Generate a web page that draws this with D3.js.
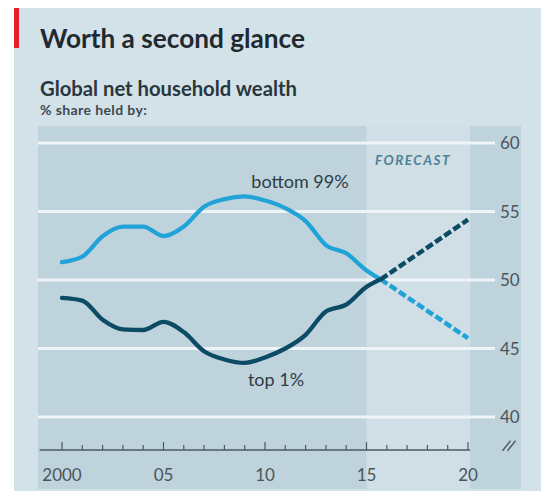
<!DOCTYPE html>
<html lang="en">
<head>
    <meta charset="UTF-8">
    <title>Worth a second glance</title>
    <style>
        body{ margin:0; background:#fff; }
        svg{ display:block; }
    </style>
</head>
<body>
    <script src="https://cdn.jsdelivr.net/npm/d3@7"></script>
    <script>
        // data
        const years = [2000,2001,2002,2003,2004,2005,2006,2007,2008,2009,2010,2011,2012,2013,2014,2015,2015.7]
        const bottom99 = [51.3,51.7,53.2,53.9,53.9,53.2,53.9,55.35,55.9,56.1,55.8,55.25,54.3,52.55,51.95,50.7,50.05]
        const top1 = [48.7,48.5,47.1,46.4,46.35,46.95,46.2,44.8,44.2,43.95,44.35,45.0,46.0,47.7,48.2,49.5,50.05]

        const forecastYears = [2015.7,2020]
        const bottom99Forecast = [50.05,45.75]
        const top1Forecast = [50.05,54.4]
        const forecastStart = 2015

        const yTicks = [40,45,50,55,60]
        const xMajor = [2000,2005,2010,2015,2020]
        const xMinor = d3.range(2000,2021)

        const W = 541, H = 491
        const font = "Lato, 'Open Sans', sans-serif"

        const svg = d3.select("body")
            .append("svg")
            .attr("width",W)
            .attr("height",H)

        // background
        svg.append("rect").attr("x",14).attr("y",8).attr("width",W-14).attr("height",H-8).attr("fill","#d3e1e8")
        svg.append("rect").attr("x",14).attr("y",8).attr("width",5).attr("height",40).attr("fill","#e3202a")

        // scales
        const x = d3.scaleLinear().domain([2000,2020]).range([62,468])
        const y = d3.scaleLinear().domain([40,60]).range([417,143])

        // panel + forecast zone
        svg.append("rect").attr("x",38).attr("y",126).attr("width",521-38).attr("height",489-126).attr("fill","#bfd3dd")
        svg.append("rect")
            .attr("x",x(forecastStart)).attr("y",126)
            .attr("width",x(2020.1)-x(forecastStart)).attr("height",489-126)
            .attr("fill","#d0dfe6")

        // titles, fitted to width
        function fit(t, w){
            let s = +t.attr("font-size")
            const len = t.node().getComputedTextLength()
            t.attr("font-size", s*w/len)
        }
        const title = svg.append("text").attr("x",40).attr("y",48)
            .attr("font-family",font).attr("font-weight","bold")
            .attr("font-size",24).attr("fill","#1e2a30").text("Worth a second glance")
        fit(title,265)
        const sub = svg.append("text").attr("x",40).attr("y",96)
            .attr("font-family",font).attr("font-weight","bold")
            .attr("font-size",17).attr("fill","#28363d").text("Global net household wealth")
        fit(sub,257)
        svg.append("text").attr("x",40).attr("y",115)
            .attr("font-family",font).attr("font-weight","bold")
            .attr("font-size",14).attr("letter-spacing",0.4).attr("fill","#3d4a50").text("% share held by:")

        // gridlines
        svg.append("g").selectAll("line")
            .data(yTicks)
            .join("line")
                .attr("x1",38).attr("x2",495)
                .attr("y1",d => y(d)).attr("y2",d => y(d))
                .attr("stroke","#eef4f7").attr("stroke-width",3)

        // y labels on the right
        svg.append("g").selectAll("text")
            .data(yTicks)
            .join("text")
                .attr("x",500).attr("y",d => y(d)).attr("dy","0.36em")
                .attr("font-family",font)
                .attr("font-size",17).attr("fill","#4a555a")
                .text(d => d)

        // axis break mark
        const brk = svg.append("g").attr("transform",`translate(${509},${y(37.9)})`)
        brk.selectAll("line").data([-2.5,2.5]).join("line")
            .attr("x1",d => d-4).attr("y1",5).attr("x2",d => d+4).attr("y2",-5)
            .attr("stroke","#4a555a").attr("stroke-width",1.3)

        // x axis
        const axisY = 450
        svg.append("line")
            .attr("x1",x(1998.9)).attr("x2",x(2020.1))
            .attr("y1",axisY).attr("y2",axisY)
            .attr("stroke","#4e5a60").attr("stroke-width",1.3)
        svg.append("g").selectAll("line")
            .data(xMinor)
            .join("line")
                .attr("x1",d => x(d)).attr("x2",d => x(d))
                .attr("y1",axisY).attr("y2",d => axisY - (d%5===0 ? 8 : 5))
                .attr("stroke","#4e5a60").attr("stroke-width",1.2)
        svg.append("g").selectAll("text")
            .data(xMajor)
            .join("text")
                .attr("x",d => x(d)).attr("y",481)
                .attr("text-anchor","middle")
                .attr("font-family",font)
                .attr("font-size",17).attr("fill","#4a555a")
                .text(d => d===2000 ? "2000" : String(d%100).padStart(2,"0"))

        // FORECAST label
        svg.append("text").attr("x",375).attr("y",165)
            .attr("font-family",font).attr("font-style","italic").attr("font-weight","bold")
            .attr("font-size",13.5).attr("letter-spacing",1.5).attr("fill","#4f8197")
            .text("FORECAST")

        // lines
        const line = d3.line().x(d => x(d[0])).y(d => y(d[1])).curve(d3.curveMonotoneX)
        const series = [
            {vals: bottom99, fc: bottom99Forecast, color: "#22a3d8"},
            {vals: top1, fc: top1Forecast, color: "#0b4b64"}
        ]
        series.forEach(s => {
            svg.append("path")
                .attr("d", line(d3.zip(years, s.vals)))
                .attr("fill","none").attr("stroke",s.color).attr("stroke-width",4.3)
                .attr("stroke-linejoin","round").attr("stroke-linecap","round")
            svg.append("path")
                .attr("d", line(d3.zip(forecastYears, s.fc)))
                .attr("fill","none").attr("stroke",s.color).attr("stroke-width",4.5)
                .attr("stroke-dasharray","8,3")
        })

        // line labels
        svg.append("text").attr("x",300).attr("y",188).attr("text-anchor","middle")
            .attr("font-family",font)
            .attr("font-size",18).attr("fill","#2f3d44").text("bottom 99%")
        svg.append("text").attr("x",276).attr("y",386).attr("text-anchor","middle")
            .attr("font-family",font)
            .attr("font-size",18).attr("fill","#2f3d44").text("top 1%")
    </script>
</body>
</html>
